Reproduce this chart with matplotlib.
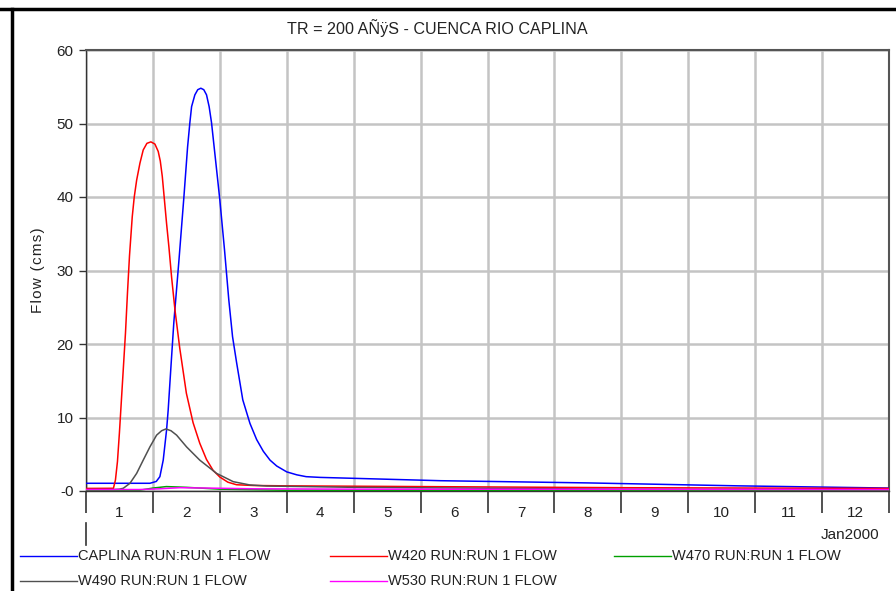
import matplotlib
matplotlib.use("Agg")
import matplotlib.pyplot as plt
from matplotlib.lines import Line2D
import matplotlib.transforms as mtransforms

plt.rcParams['font.family'] = ['Liberation Sans', 'DejaVu Sans']

title = "TR = 200 AÑÿS - CUENCA RIO CAPLINA"
day_labels = ["1", "2", "3", "4", "5", "6", "7", "8", "9", "10", "11", "12"]
y_ticks = [0, 10, 20, 30, 40, 50, 60]
y_labels = ["-0", "10", "20", "30", "40", "50", "60"]

# time in days since 01Jan2000 00:00, flow in cms
caplina_t = [0.00, 0.955, 1.05, 1.104, 1.154, 1.204, 1.228, 1.27, 1.313, 1.39, 1.463,
             1.518, 1.552, 1.578, 1.627, 1.67, 1.716, 1.76, 1.801, 1.840, 1.876, 1.915,
             1.966, 2.00, 2.07, 2.134, 2.19, 2.25, 2.343, 2.45, 2.55, 2.65, 2.75, 2.85,
             3.00, 3.15, 3.29, 3.50, 5.30, 7.50, 9.75, 12.0]
caplina_q = [1.05, 1.05, 1.3, 1.95, 4.2, 8.3, 11.0, 17.0, 23.0, 31.5, 40.0,
             46.8, 50.1, 52.3, 53.9, 54.6, 54.8, 54.6, 53.9, 52.3, 50.1, 46.8,
             42.5, 39.6, 32.8, 26.0, 21.0, 17.5, 12.4, 9.2, 7.0, 5.4, 4.2, 3.4,
             2.6, 2.2, 1.95, 1.85, 1.4, 1.1, 0.7, 0.4]

w420_t = [0.00, 0.41, 0.44, 0.47, 0.50, 0.53, 0.56, 0.59, 0.62, 0.65, 0.691, 0.721,
          0.757, 0.806, 0.855, 0.91, 0.97, 1.03, 1.079, 1.11, 1.14, 1.17, 1.204, 1.239,
          1.28, 1.33, 1.40, 1.50, 1.60, 1.70, 1.80, 1.90, 2.00, 2.12, 2.25, 2.50,
          3.00, 5.00, 8.00, 12.0]
w420_q = [0.35, 0.37, 1.5, 4.0, 8.0, 12.5, 17.0, 21.5, 27.0, 32.0, 37.3, 40.0,
          42.3, 44.6, 46.4, 47.3, 47.5, 47.2, 46.2, 44.9, 42.8, 39.8, 36.4, 33.2,
          29.0, 24.6, 19.5, 13.3, 9.3, 6.5, 4.3, 2.8, 1.9, 1.2, 0.85, 0.75,
          0.7, 0.6, 0.45, 0.35]

w470_t = [0.0, 0.8, 1.0, 1.2, 1.5, 2.0, 3.0, 12.0]
w470_q = [0.05, 0.1, 0.4, 0.6, 0.5, 0.25, 0.1, 0.05]

w490_t = [0.00, 0.40, 0.50, 0.557, 0.657, 0.757, 0.855, 0.955, 1.055, 1.13, 1.194,
          1.27, 1.354, 1.503, 1.70, 1.951, 2.20, 2.45, 2.70, 4.00, 8.00, 12.0]
w490_q = [0.2, 0.2, 0.25, 0.37, 1.05, 2.4, 4.2, 6.0, 7.6, 8.2, 8.44,
          8.2, 7.6, 6.0, 4.2, 2.4, 1.27, 0.82, 0.68, 0.5, 0.25, 0.15]

w530_t = [0.0, 0.8, 1.1, 1.4, 1.8, 2.5, 4.0, 12.0]
w530_q = [0.2, 0.2, 0.3, 0.45, 0.4, 0.3, 0.25, 0.2]

series = [
    ("CAPLINA RUN:RUN 1 FLOW", caplina_t, caplina_q, "#0000ff"),
    ("W420 RUN:RUN 1 FLOW", w420_t, w420_q, "#ff0000"),
    ("W470 RUN:RUN 1 FLOW", w470_t, w470_q, "#00a000"),
    ("W490 RUN:RUN 1 FLOW", w490_t, w490_q, "#505050"),
    ("W530 RUN:RUN 1 FLOW", w530_t, w530_q, "#ff00ff"),
]

fig = plt.figure(figsize=(8.96, 5.91), dpi=100, facecolor='w')
ax = fig.add_axes([86 / 896, 1 - 491 / 591, 803 / 896, 441 / 591])

for name, t, q, c in series:
    ax.plot(t, q, color=c, lw=1.1, zorder=3)

ax.set_xlim(0, 12)
ax.set_ylim(0, 60)
ax.set_xticks(range(0, 13))
ax.set_xticklabels([])
ax.set_xticks([i + 0.5 for i in range(12)], minor=True)
ax.set_xticklabels(day_labels, minor=True)
ax.tick_params(axis='x', which='major', direction='out', length=16, width=1.2, color='#333333')
ax.tick_params(axis='x', which='minor', length=0, pad=11, labelsize=11, labelcolor='#222222')
ax.set_yticks(y_ticks)
ax.set_yticklabels(y_labels)
ax.tick_params(axis='y', direction='out', length=5, width=1.0, color='#333333',
               labelsize=11, pad=4, labelcolor='#222222')

ax.grid(True, which='major', color='#c4c4c4', lw=1.8, zorder=0)
ax.set_axisbelow(True)
for s in ['top', 'right']:
    ax.spines[s].set_color('#555555')
    ax.spines[s].set_linewidth(1.5)
for s in ['left', 'bottom']:
    ax.spines[s].set_color('#333333')
    ax.spines[s].set_linewidth(1.0)

ax.set_ylabel('F\u200al\u200ao\u200aw\u200a \u200a(\u200ac\u200am\u200as\u200a)',
              fontsize=11, color='#222222', labelpad=8)

# month marker below first tick
trans = mtransforms.blended_transform_factory(ax.transData, fig.transFigure)
ax.add_line(Line2D([0, 0], [1 - 523 / 591, 1 - 545 / 591], transform=trans,
                   color='#333333', lw=1.2, clip_on=False))
fig.text(850 / 896, 1 - 535 / 591, 'Jan2000', ha='center', va='center',
         fontsize=11, color='#222222')

fig.text(437 / 896, 1 - 28 / 591, title, ha='center', va='center',
         fontsize=11.6, color='#222222')

# legend
leg_pos = [(20, 556), (330, 556), (614, 556), (20, 581), (330, 581)]
for (name, t, q, c), (lx, ly) in zip(series, leg_pos):
    yy = 1 - ly / 591
    fig.add_artist(Line2D([lx / 896, (lx + 57) / 896], [yy, yy], color=c, lw=1.0))
    fig.text((lx + 58) / 896, yy, name, ha='left', va='center', fontsize=10.5, color='#222222')

# outer frame
fig.add_artist(Line2D([0, 1], [1 - 9 / 591, 1 - 9 / 591], color='black', lw=2.5))
fig.add_artist(Line2D([12 / 896, 12 / 896], [0, 1 - 9 / 591], color='black', lw=2.5))

fig.savefig('out.png', dpi=100, facecolor='w')
